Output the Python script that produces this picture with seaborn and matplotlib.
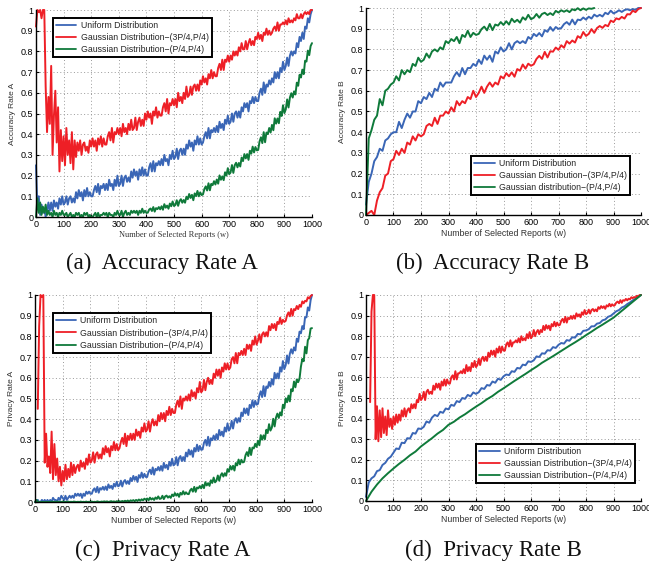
import numpy as np
import matplotlib
matplotlib.use("Agg")
import matplotlib.pyplot as plt
import seaborn as sns

# sample positions (number of selected reports)
w5 = np.arange(0, 1001, 5)
w10 = np.arange(0, 1001, 10)
w20 = np.arange(0, 1001, 20)
w10_green_b = np.arange(0, 831, 10)

labels_a = ["Uniform Distribution", "Gaussian Distribution\u2212(3P/4,P/4)", "Gaussian Distribution\u2212(P/4,P/4)"]
labels_b = ["Uniform Distribution", "Gaussian Distribution\u2212(3P/4,P/4)", "Gaussian distribution\u2212(P/4,P/4)"]

# ---- (a) Accuracy Rate A, step 5 ----
acc_a_uniform = [
    0.25, 0.04, 0.10, 0.01, 0.06, 0.02, 0.04, 0.00, 0.03, 0.07, 0.03,
    0.07, 0.03, 0.08, 0.05, 0.07, 0.04, 0.09, 0.06, 0.10, 0.06,
    0.07, 0.10, 0.06, 0.09, 0.10, 0.07, 0.09, 0.07, 0.12, 0.09,
    0.13, 0.10, 0.12, 0.08, 0.13, 0.10, 0.14, 0.10, 0.12, 0.10,
    0.10, 0.13, 0.15, 0.12, 0.16, 0.11, 0.15, 0.14, 0.16, 0.13,
    0.16, 0.13, 0.18, 0.15, 0.16, 0.13, 0.18, 0.15, 0.20, 0.15,
    0.16, 0.20, 0.15, 0.19, 0.20, 0.17, 0.19, 0.17, 0.22, 0.19,
    0.23, 0.20, 0.22, 0.18, 0.23, 0.20, 0.24, 0.20, 0.23, 0.20,
    0.20, 0.24, 0.26, 0.22, 0.27, 0.22, 0.26, 0.25, 0.27, 0.25,
    0.28, 0.25, 0.30, 0.27, 0.28, 0.25, 0.30, 0.28, 0.32, 0.28,
    0.29, 0.33, 0.28, 0.32, 0.33, 0.30, 0.33, 0.30, 0.35, 0.33,
    0.37, 0.34, 0.36, 0.32, 0.37, 0.35, 0.39, 0.35, 0.38, 0.35,
    0.36, 0.39, 0.41, 0.38, 0.43, 0.38, 0.42, 0.41, 0.43, 0.41,
    0.44, 0.41, 0.46, 0.43, 0.45, 0.42, 0.47, 0.45, 0.49, 0.45,
    0.46, 0.50, 0.46, 0.50, 0.51, 0.48, 0.51, 0.48, 0.53, 0.51,
    0.55, 0.53, 0.55, 0.51, 0.56, 0.55, 0.58, 0.55, 0.58, 0.56,
    0.56, 0.60, 0.62, 0.59, 0.65, 0.60, 0.64, 0.63, 0.66, 0.64,
    0.67, 0.65, 0.70, 0.67, 0.70, 0.67, 0.72, 0.70, 0.75, 0.71,
    0.73, 0.77, 0.73, 0.78, 0.80, 0.78, 0.80, 0.79, 0.84, 0.82,
    0.87, 0.85, 0.89, 0.86, 0.92, 0.91, 0.96, 0.94, 0.98, 1.00,
]
acc_a_gauss_hi = [
    0.92, 1.00, 0.99, 1.00, 0.96, 1.00, 1.00, 0.63, 0.41, 0.58, 0.45,
    0.73, 0.30, 0.49, 0.61, 0.36, 0.53, 0.22, 0.42, 0.27, 0.39,
    0.25, 0.43, 0.30, 0.37, 0.26, 0.41, 0.23, 0.37, 0.29, 0.36,
    0.32, 0.37, 0.30, 0.35, 0.36, 0.32, 0.34, 0.31, 0.37, 0.34,
    0.38, 0.34, 0.37, 0.32, 0.38, 0.35, 0.39, 0.34, 0.38, 0.35,
    0.35, 0.39, 0.41, 0.37, 0.43, 0.36, 0.41, 0.40, 0.43, 0.40,
    0.43, 0.39, 0.45, 0.41, 0.43, 0.40, 0.45, 0.42, 0.47, 0.42,
    0.43, 0.48, 0.42, 0.46, 0.48, 0.44, 0.47, 0.44, 0.50, 0.47,
    0.51, 0.48, 0.50, 0.45, 0.51, 0.49, 0.53, 0.48, 0.51, 0.49,
    0.49, 0.53, 0.55, 0.51, 0.57, 0.50, 0.55, 0.54, 0.57, 0.54,
    0.57, 0.53, 0.60, 0.56, 0.58, 0.55, 0.60, 0.57, 0.63, 0.58,
    0.59, 0.63, 0.59, 0.63, 0.64, 0.61, 0.64, 0.61, 0.66, 0.64,
    0.68, 0.65, 0.67, 0.64, 0.69, 0.67, 0.71, 0.67, 0.70, 0.68,
    0.68, 0.72, 0.74, 0.71, 0.76, 0.71, 0.76, 0.75, 0.78, 0.75,
    0.78, 0.76, 0.80, 0.78, 0.80, 0.78, 0.82, 0.80, 0.84, 0.81,
    0.81, 0.85, 0.81, 0.84, 0.86, 0.83, 0.85, 0.83, 0.87, 0.86,
    0.89, 0.86, 0.88, 0.85, 0.89, 0.88, 0.91, 0.88, 0.90, 0.88,
    0.89, 0.91, 0.92, 0.90, 0.94, 0.90, 0.93, 0.93, 0.94, 0.93,
    0.95, 0.93, 0.96, 0.94, 0.95, 0.94, 0.96, 0.95, 0.98, 0.96,
    0.96, 0.98, 0.96, 0.98, 0.99, 0.98, 0.99, 0.98, 1.00, 1.00,
]
acc_a_gauss_lo = [
    0.00, 0.09, 0.02, 0.07, 0.01, 0.05, 0.02, 0.06, 0.01, 0.03, 0.01,
    0.02, 0.00, 0.03, 0.01, 0.02, 0.00, 0.02, 0.01, 0.03, 0.01,
    0.01, 0.02, 0.00, 0.01, 0.02, 0.00, 0.01, 0.00, 0.02, 0.01,
    0.02, 0.00, 0.01, 0.00, 0.02, 0.01, 0.02, 0.00, 0.01, 0.00,
    0.00, 0.01, 0.02, 0.00, 0.02, 0.00, 0.01, 0.01, 0.02, 0.01,
    0.02, 0.00, 0.02, 0.01, 0.01, 0.00, 0.02, 0.01, 0.03, 0.01,
    0.01, 0.03, 0.00, 0.02, 0.03, 0.01, 0.02, 0.01, 0.03, 0.02,
    0.03, 0.02, 0.03, 0.01, 0.03, 0.02, 0.04, 0.02, 0.03, 0.02,
    0.021, 0.036, 0.041, 0.029, 0.048, 0.026, 0.043, 0.038, 0.048, 0.037,
    0.052, 0.035, 0.062, 0.045, 0.055, 0.040, 0.065, 0.052, 0.075, 0.053,
    0.058, 0.081, 0.054, 0.077, 0.086, 0.069, 0.082, 0.069, 0.098, 0.086,
    0.111, 0.092, 0.107, 0.081, 0.114, 0.101, 0.126, 0.100, 0.119, 0.106,
    0.109, 0.135, 0.148, 0.128, 0.163, 0.129, 0.160, 0.154, 0.173, 0.157,
    0.181, 0.161, 0.201, 0.180, 0.196, 0.178, 0.216, 0.200, 0.236, 0.207,
    0.215, 0.251, 0.213, 0.250, 0.262, 0.240, 0.261, 0.244, 0.287, 0.270,
    0.304, 0.283, 0.304, 0.276, 0.320, 0.306, 0.340, 0.312, 0.338, 0.322,
    0.324, 0.365, 0.385, 0.357, 0.410, 0.361, 0.408, 0.401, 0.430, 0.408,
    0.445, 0.419, 0.477, 0.451, 0.476, 0.453, 0.508, 0.488, 0.540, 0.502,
    0.520, 0.568, 0.529, 0.577, 0.598, 0.577, 0.607, 0.592, 0.649, 0.634,
    0.687, 0.674, 0.712, 0.690, 0.755, 0.751, 0.804, 0.782, 0.826, 0.840,
]

# ---- (b) Accuracy Rate B, step 10 ----
acc_b_uniform = [
    0.05, 0.16, 0.20, 0.26, 0.28, 0.32, 0.31, 0.36, 0.37, 0.39, 0.40,
    0.40, 0.45, 0.42, 0.46, 0.49, 0.47, 0.50, 0.50, 0.55, 0.54,
    0.57, 0.56, 0.59, 0.57, 0.61, 0.60, 0.64, 0.62, 0.64, 0.64,
    0.64, 0.67, 0.69, 0.67, 0.71, 0.68, 0.71, 0.71, 0.73, 0.72,
    0.75, 0.73, 0.77, 0.75, 0.77, 0.74, 0.79, 0.78, 0.81, 0.79,
    0.80, 0.83, 0.80, 0.83, 0.84, 0.83, 0.84, 0.83, 0.86, 0.85,
    0.875, 0.864, 0.879, 0.863, 0.893, 0.885, 0.908, 0.890, 0.908, 0.899,
    0.903, 0.922, 0.932, 0.919, 0.944, 0.921, 0.944, 0.941, 0.954, 0.944,
    0.958, 0.949, 0.968, 0.959, 0.967, 0.959, 0.977, 0.970, 0.987, 0.974,
    0.980, 0.989, 0.981, 0.990, 0.994, 0.989, 0.995, 0.991, 1.000, 1.000,
]
acc_b_gauss_hi = [
    0.00, 0.01, 0.02, 0.00, 0.07, 0.11, 0.13, 0.19, 0.20, 0.26, 0.27,
    0.31, 0.29, 0.32, 0.30, 0.35, 0.34, 0.38, 0.36, 0.39, 0.38,
    0.39, 0.43, 0.44, 0.43, 0.47, 0.44, 0.48, 0.48, 0.50, 0.49,
    0.52, 0.50, 0.55, 0.53, 0.55, 0.54, 0.57, 0.56, 0.60, 0.57,
    0.59, 0.62, 0.59, 0.62, 0.64, 0.62, 0.64, 0.63, 0.67, 0.66,
    0.685, 0.670, 0.689, 0.668, 0.705, 0.697, 0.727, 0.707, 0.731, 0.721,
    0.728, 0.754, 0.769, 0.754, 0.788, 0.761, 0.791, 0.789, 0.809, 0.798,
    0.820, 0.808, 0.840, 0.828, 0.843, 0.833, 0.864, 0.855, 0.884, 0.865,
    0.875, 0.898, 0.880, 0.903, 0.913, 0.904, 0.918, 0.912, 0.939, 0.932,
    0.950, 0.945, 0.957, 0.949, 0.970, 0.969, 0.987, 0.980, 0.995, 1.000,
]
acc_b_gauss_lo = [
    0.00, 0.37, 0.41, 0.46, 0.48, 0.56, 0.53, 0.60, 0.61, 0.63, 0.64,
    0.67, 0.65, 0.70, 0.68, 0.70, 0.69, 0.73, 0.72, 0.76, 0.74,
    0.75, 0.78, 0.76, 0.79, 0.80, 0.79, 0.81, 0.80, 0.84, 0.83,
    0.85, 0.84, 0.86, 0.83, 0.87, 0.86, 0.89, 0.86, 0.88, 0.87,
    0.875, 0.898, 0.910, 0.892, 0.923, 0.893, 0.920, 0.915, 0.932, 0.918,
    0.936, 0.920, 0.948, 0.932, 0.943, 0.929, 0.955, 0.943, 0.967, 0.946,
    0.953, 0.971, 0.953, 0.971, 0.977, 0.966, 0.975, 0.966, 0.986, 0.978,
    0.989, 0.982, 0.989, 0.980, 0.994, 0.989, 0.999, 0.989, 0.998, 0.991,
    0.998, 0.996, 1.000,
]

# ---- (c) Privacy Rate A, step 5 ----
nan = np.nan
priv_a_uniform = [
    0.00, 0.00, 0.01, 0.00, 0.00, 0.01, 0.00, 0.01, 0.00, 0.01, 0.00,
    0.01, 0.00, 0.02, 0.01, 0.01, 0.00, 0.02, 0.01, 0.03, 0.02,
    0.01, 0.03, 0.01, 0.02, 0.03, 0.02, 0.03, 0.02, 0.04, 0.03,
    0.04, 0.03, 0.04, 0.02, 0.04, 0.03, 0.05, 0.04, 0.05, 0.04,
    0.040, 0.058, 0.066, 0.048, 0.073, 0.045, 0.067, 0.060, 0.073, 0.059,
    0.075, 0.058, 0.085, 0.068, 0.078, 0.063, 0.088, 0.075, 0.098, 0.076,
    0.080, 0.103, 0.075, 0.098, 0.106, 0.088, 0.101, 0.087, 0.116, 0.101,
    0.126, 0.107, 0.122, 0.097, 0.130, 0.117, 0.142, 0.117, 0.136, 0.121,
    0.121, 0.146, 0.156, 0.135, 0.167, 0.132, 0.160, 0.153, 0.169, 0.152,
    0.174, 0.151, 0.189, 0.165, 0.179, 0.158, 0.194, 0.175, 0.209, 0.177,
    0.183, 0.217, 0.177, 0.212, 0.222, 0.198, 0.217, 0.198, 0.239, 0.220,
    0.253, 0.229, 0.249, 0.218, 0.261, 0.244, 0.277, 0.246, 0.271, 0.252,
    0.254, 0.286, 0.300, 0.273, 0.315, 0.271, 0.308, 0.299, 0.321, 0.300,
    0.328, 0.302, 0.348, 0.322, 0.340, 0.317, 0.360, 0.340, 0.380, 0.345,
    0.356, 0.392, 0.355, 0.392, 0.405, 0.383, 0.405, 0.388, 0.432, 0.415,
    0.452, 0.428, 0.452, 0.420, 0.469, 0.454, 0.491, 0.459, 0.489, 0.470,
    0.474, 0.515, 0.535, 0.507, 0.560, 0.511, 0.558, 0.551, 0.580, 0.558,
    0.594, 0.567, 0.624, 0.597, 0.621, 0.597, 0.651, 0.630, 0.681, 0.642,
    0.660, 0.708, 0.669, 0.717, 0.738, 0.717, 0.747, 0.732, 0.789, 0.774,
    0.823, 0.815, 0.850, 0.835, 0.893, 0.892, 0.940, 0.925, 0.975, 1.000,
]
priv_a_gauss_hi = [
    nan, nan, 0.45, 0.85, 1.00, 0.99, 1.00, 0.19, 0.33, 0.17, 0.22,
    0.14, 0.34, 0.11, 0.28, 0.13, 0.21, 0.10, 0.17, 0.08, 0.15,
    0.10, 0.18, 0.11, 0.16, 0.12, 0.19, 0.13, 0.18, 0.14, 0.17,
    0.18, 0.15, 0.20, 0.17, 0.19, 0.16, 0.21, 0.18, 0.23, 0.19,
    0.20, 0.24, 0.19, 0.23, 0.24, 0.21, 0.23, 0.21, 0.26, 0.23,
    0.27, 0.24, 0.26, 0.22, 0.27, 0.25, 0.29, 0.25, 0.28, 0.25,
    0.26, 0.29, 0.31, 0.28, 0.33, 0.27, 0.32, 0.30, 0.33, 0.30,
    0.33, 0.30, 0.35, 0.32, 0.34, 0.31, 0.36, 0.34, 0.38, 0.34,
    0.35, 0.39, 0.34, 0.38, 0.40, 0.37, 0.39, 0.37, 0.42, 0.39,
    0.43, 0.40, 0.43, 0.39, 0.44, 0.42, 0.46, 0.42, 0.45, 0.43,
    0.43, 0.47, 0.49, 0.46, 0.51, 0.45, 0.50, 0.49, 0.51, 0.49,
    0.52, 0.49, 0.54, 0.51, 0.53, 0.50, 0.55, 0.53, 0.58, 0.53,
    0.54, 0.59, 0.54, 0.58, 0.60, 0.57, 0.59, 0.57, 0.62, 0.60,
    0.64, 0.61, 0.64, 0.60, 0.65, 0.63, 0.67, 0.64, 0.67, 0.64,
    0.65, 0.69, 0.70, 0.67, 0.72, 0.67, 0.72, 0.71, 0.73, 0.71,
    0.74, 0.71, 0.76, 0.74, 0.76, 0.73, 0.78, 0.76, 0.80, 0.76,
    0.78, 0.81, 0.77, 0.81, 0.82, 0.80, 0.82, 0.80, 0.85, 0.83,
    0.86, 0.84, 0.86, 0.83, 0.87, 0.86, 0.89, 0.86, 0.88, 0.87,
    0.875, 0.902, 0.916, 0.897, 0.933, 0.900, 0.932, 0.927, 0.947, 0.932,
    0.952, 0.943, 0.969, 0.960, 0.972, 0.969, 0.989, 0.983, 0.995, 1.000,
]
priv_a_gauss_lo = [
    0.00, 0.01, 0.00, 0.00, 0.00, 0.00, 0.00, 0.00, 0.00, 0.00, 0.00,
    0.000, 0.002, 0.000, 0.001, 0.000, 0.002, 0.000, 0.001, 0.000, 0.002,
    0.000, 0.001, 0.000, 0.002, 0.000, 0.001, 0.000, 0.002, 0.001, 0.000,
    0.001, 0.000, 0.002, 0.000, 0.001, 0.000, 0.002, 0.000, 0.001, 0.000,
    0.002, 0.000, 0.001, 0.000, 0.003, 0.001, 0.000, 0.002, 0.001, 0.003,
    0.001, 0.003, 0.000, 0.002, 0.004, 0.001, 0.003, 0.000, 0.004, 0.002,
    0.004, 0.001, 0.005, 0.002, 0.006, 0.003, 0.007, 0.002, 0.008, 0.005,
    0.009, 0.004, 0.010, 0.005, 0.012, 0.006, 0.013, 0.008, 0.016, 0.011,
    0.017, 0.008, 0.021, 0.012, 0.018, 0.010, 0.022, 0.015, 0.027, 0.015,
    0.017, 0.030, 0.014, 0.027, 0.031, 0.021, 0.028, 0.020, 0.036, 0.028,
    0.043, 0.031, 0.040, 0.025, 0.044, 0.036, 0.052, 0.037, 0.047, 0.039,
    0.038, 0.056, 0.064, 0.050, 0.073, 0.049, 0.070, 0.066, 0.077, 0.066,
    0.083, 0.067, 0.096, 0.080, 0.091, 0.078, 0.105, 0.092, 0.118, 0.095,
    0.103, 0.128, 0.103, 0.128, 0.139, 0.123, 0.139, 0.127, 0.159, 0.146,
    0.174, 0.157, 0.175, 0.152, 0.188, 0.177, 0.205, 0.182, 0.204, 0.191,
    0.194, 0.226, 0.241, 0.222, 0.262, 0.227, 0.263, 0.259, 0.281, 0.266,
    0.296, 0.274, 0.323, 0.301, 0.322, 0.303, 0.349, 0.333, 0.376, 0.345,
    0.359, 0.402, 0.365, 0.408, 0.427, 0.406, 0.433, 0.418, 0.470, 0.454,
    0.501, 0.482, 0.514, 0.486, 0.545, 0.535, 0.582, 0.554, 0.592, 0.579,
    0.596, 0.654, 0.691, 0.680, 0.750, 0.718, 0.782, 0.792, 0.838, 0.840,
]

# ---- (d) Privacy Rate B ----
priv_b_uniform = [  # step 10
    0.02, 0.09, 0.11, 0.12, 0.145, 0.15, 0.175, 0.185, 0.205, 0.215, 0.235,
    0.255, 0.252, 0.283, 0.281, 0.305, 0.303, 0.330, 0.327, 0.352, 0.350,
    0.360, 0.386, 0.380, 0.405, 0.418, 0.412, 0.433, 0.428, 0.449, 0.445,
    0.467, 0.462, 0.485, 0.480, 0.500, 0.496, 0.515, 0.508, 0.527, 0.520,
    0.528, 0.548, 0.544, 0.563, 0.560, 0.580, 0.574, 0.594, 0.588, 0.605,
    0.614, 0.611, 0.630, 0.627, 0.646, 0.643, 0.662, 0.659, 0.678, 0.675,
    0.683, 0.702, 0.699, 0.717, 0.715, 0.732, 0.730, 0.747, 0.743, 0.758,
    0.767, 0.764, 0.781, 0.778, 0.795, 0.793, 0.811, 0.809, 0.826, 0.828,
    0.834, 0.848, 0.848, 0.861, 0.864, 0.877, 0.881, 0.894, 0.899, 0.910,
    0.921, 0.927, 0.939, 0.945, 0.956, 0.964, 0.974, 0.982, 0.991, 1.000,
]
priv_b_gauss_hi = [  # step 5
    nan, nan, nan, 0.48, 0.92, 1.00, 1.00, 0.30, 0.46, 0.29, 0.44,
    0.31, 0.45, 0.33, 0.41, 0.32, 0.44, 0.36, 0.40, 0.35, 0.41,
    0.37, 0.42, 0.38, 0.42, 0.39, 0.44, 0.41, 0.45, 0.41, 0.44,
    0.45, 0.43, 0.47, 0.45, 0.47, 0.45, 0.49, 0.48, 0.52, 0.49,
    0.50, 0.53, 0.49, 0.53, 0.54, 0.52, 0.53, 0.52, 0.56, 0.54,
    0.57, 0.55, 0.57, 0.54, 0.58, 0.56, 0.59, 0.56, 0.59, 0.57,
    0.57, 0.60, 0.61, 0.59, 0.63, 0.59, 0.62, 0.62, 0.63, 0.62,
    0.64, 0.62, 0.66, 0.63, 0.65, 0.63, 0.67, 0.65, 0.68, 0.65,
    0.66, 0.69, 0.66, 0.69, 0.70, 0.68, 0.70, 0.68, 0.72, 0.70,
    0.73, 0.71, 0.73, 0.70, 0.74, 0.72, 0.75, 0.72, 0.75, 0.73,
    0.73, 0.76, 0.77, 0.75, 0.78, 0.75, 0.77, 0.77, 0.78, 0.77,
    0.79, 0.77, 0.80, 0.78, 0.79, 0.78, 0.81, 0.79, 0.82, 0.79,
    0.80, 0.83, 0.80, 0.82, 0.83, 0.81, 0.83, 0.82, 0.85, 0.83,
    0.854, 0.837, 0.851, 0.829, 0.859, 0.848, 0.870, 0.848, 0.866, 0.852,
    0.855, 0.875, 0.884, 0.867, 0.894, 0.866, 0.889, 0.883, 0.898, 0.884,
    0.900, 0.885, 0.911, 0.896, 0.906, 0.892, 0.916, 0.904, 0.927, 0.907,
    0.912, 0.929, 0.910, 0.927, 0.932, 0.921, 0.930, 0.921, 0.941, 0.933,
    0.946, 0.937, 0.945, 0.933, 0.950, 0.944, 0.957, 0.945, 0.955, 0.948,
    0.951, 0.963, 0.968, 0.960, 0.975, 0.962, 0.975, 0.972, 0.981, 0.974,
    0.982, 0.979, 0.989, 0.985, 0.990, 0.987, 0.996, 0.993, 1.000, 1.000,
]
priv_b_gauss_lo = [  # step 20
    0.000, 0.045, 0.080, 0.110, 0.135, 0.158,
    0.180, 0.200, 0.222, 0.240, 0.265,
    0.285, 0.305, 0.327, 0.345, 0.370,
    0.385, 0.405, 0.421, 0.440, 0.458,
    0.475, 0.494, 0.510, 0.530, 0.547,
    0.565, 0.583, 0.600, 0.617, 0.635,
    0.652, 0.671, 0.687, 0.703, 0.720,
    0.737, 0.754, 0.770, 0.787, 0.805,
    0.822, 0.840, 0.856, 0.873, 0.890,
    0.912, 0.934, 0.956, 0.978, 1.000,
]

BLUE = "#3a66b6"
RED = "#ee1f26"
GREEN = "#0f7a3a"

sns.set_theme(style="white")
plt.rcParams["font.family"] = ["Liberation Sans", "DejaVu Sans"]
plt.rcParams["axes.linewidth"] = 1.0

fig = plt.figure(figsize=(6.49, 5.63), dpi=100)
W, H = 649.0, 563.0


def make_axes(l, r, t, b):
    return fig.add_axes([l / W, 1 - b / H, (r - l) / W, (b - t) / H])


ax_a = make_axes(36, 312, 10, 217)
ax_b = make_axes(366, 641, 8, 215)
ax_c = make_axes(35, 312, 295, 502)
ax_d = make_axes(366, 641, 295, 501)

panels = [
    (ax_a, [(w5, acc_a_uniform), (w5, acc_a_gauss_hi), (w5, acc_a_gauss_lo)], labels_a,
     "Accuracy Rate A", "upper left", (0.062, 0.961), True),
    (ax_b, [(w10, acc_b_uniform), (w10, acc_b_gauss_hi), (w10_green_b, acc_b_gauss_lo)], labels_b,
     "Accuracy Rate B", "lower right", (0.96, 0.097), False),
    (ax_c, [(w5, priv_a_uniform), (w5, priv_a_gauss_hi), (w5, priv_a_gauss_lo)], labels_a,
     "Privacy Rate A", "upper left", (0.064, 0.911), False),
    (ax_d, [(w10, priv_b_uniform), (w5, priv_b_gauss_hi), (w20, priv_b_gauss_lo)], labels_a,
     "Privacy Rate B", "lower right", (0.978, 0.087), False),
]

for ax, series, labels, ylab, loc, anchor, serif_xlabel in panels:
    for (x, y), c, lab in zip(series, [BLUE, RED, GREEN], labels):
        sns.lineplot(x=x, y=np.array(y, dtype=float), ax=ax, color=c, linewidth=1.4,
                     label=lab, estimator=None, sort=False, clip_on=False)
    ax.set_xlim(0, 1000)
    ax.set_ylim(0, 1)
    ax.set_xticks(range(0, 1001, 100))
    ax.set_yticks([i / 10 for i in range(11)])
    ax.set_yticklabels(["0"] + ["%.1f" % (i / 10) for i in range(1, 10)] + ["1"])
    ax.grid(True, linestyle=(0, (1, 2.5)), color="#9a9a9a", linewidth=0.7)
    for s in ["top", "right"]:
        ax.spines[s].set_visible(False)
    for s in ["left", "bottom"]:
        ax.spines[s].set_color("black")
        ax.spines[s].set_linewidth(1.0)
    ax.tick_params(direction="in", length=2.5, width=0.8, labelsize=6.5, pad=2,
                   colors="black", left=True, bottom=True)
    ax.set_ylabel(ylab, fontsize=6, labelpad=3, color="#333333")
    if serif_xlabel:
        ax.set_xlabel("Number of Selected Reports (w)", fontsize=6,
                      family=["Liberation Serif", "DejaVu Serif"], labelpad=1.5, color="#333333")
    else:
        ax.set_xlabel("Number of Selected Reports (w)", fontsize=6.3, labelpad=1.5, color="#333333")
    leg = ax.legend(loc=loc, bbox_to_anchor=anchor, fontsize=6.3, frameon=True,
                    fancybox=False, framealpha=1, edgecolor="black", borderpad=0.35,
                    labelspacing=0.35, handlelength=2.3, handletextpad=0.5,
                    borderaxespad=0)
    leg.get_frame().set_linewidth(1.4)
    for line in leg.get_lines():
        line.set_linewidth(1.3)

captions = [("(a)  Accuracy Rate A", 162, 263), ("(b)  Accuracy Rate B", 493, 263),
            ("(c)  Privacy Rate A", 163, 550), ("(d)  Privacy Rate B", 493, 550)]
for txt, cx, cy in captions:
    fig.text(cx / W, 1 - cy / H, txt, ha="center", va="center", fontsize=16.5,
             family=["Liberation Serif", "DejaVu Serif"], color="#111111")

fig.savefig("out.png", dpi=100)
